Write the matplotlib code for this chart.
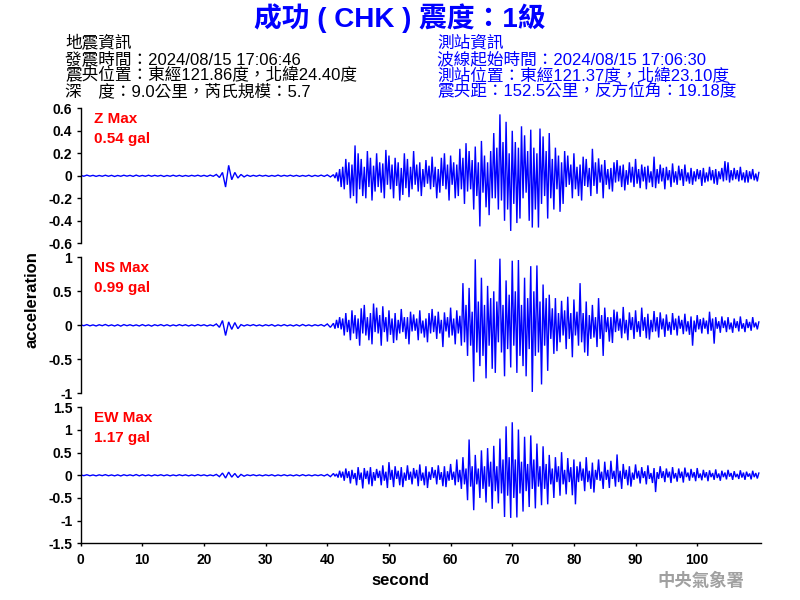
import matplotlib
matplotlib.use("Agg")
import matplotlib.pyplot as plt
import numpy as np
from matplotlib.ticker import FuncFormatter

FONTS = ['Liberation Sans', 'Noto Sans CJK TC', 'DejaVu Sans']
plt.rcParams['font.family'] = FONTS

# ---------------- data (gal) ----------------
# quiet part: one value every 0.5 s from 0 s to 40.5 s
quiet_interval = 0.5
# active part: one value every 0.25 s from 41 s to 110 s
active_start = 41.0
active_interval = 0.25

z_quiet = [
    .004, -.004, .006, -.003, .004, -.005, .003, -.004, .005, -.004,
    .004, -.006, .003, -.004, .005, -.003, .004, -.005, .006, -.004,
    .003, -.004, .005, -.004, .004, -.003, .004, -.006, .003, -.004,
    .005, -.004, .004, -.005, .003, -.004, .004, -.003, .005, -.004,
    .004, -.005, .006, -.004, .012, -.015, .030, -.100, .093, -.035,
    .030, -.020, .012, -.010, .006, -.005, .004, -.004, .005, -.003,
    .004, -.005, .003, -.004, .006, -.004, .004, -.003, .005, -.004,
    .004, -.005, .003, -.004, .005, -.006, .004, -.004, .006, -.005,
    .008, -.010,
]
z_active = [
    .01, -.02, .03, -.05,   .06, -.10, .08, -.12,   .15, -.08, .12, -.20,   # 41-43
    .10, -.18, .27, -.245,  .20, -.12, .15, -.18,   .08, -.20, .22, -.10,   # 44-46
    .16, -.22, .09, -.14,   .20, -.10, .12, -.15,   .11, -.20, .23, -.08,   # 47-49
    .18, -.12, .10, -.20,   .16, -.09, .12, -.22,   .07, -.17, .20, -.11,   # 50-52
    .15, -.19, .08, -.12,   .22, -.08, .10, -.14,   .12, -.18, .06, -.10,   # 53-55
    .14, -.07, .09, -.12,   .17, -.10, .08, -.20,   .06, -.15, .16, -.09,   # 56-58
    .20, -.12, .10, -.22,   .18, -.08, .12, -.20,   .10, -.18, .24, -.12,   # 59-61
    .16, -.25, .29, -.14,   .22, -.12, .14, -.30,   .26, -.18, .12, -.45,   # 62-64
    .31, -.15, .18, -.28,   .12, -.35, .22, -.20,   .38, -.20, .25, -.30,   # 65-67
    .546, -.22, .30, -.40,  .48, -.30, .20, -.49,   .40, -.25, .30, -.42,   # 68-70
    .25, -.38, .44, -.20,   .36, -.15, .22, -.40,   .41, -.46, .25, -.30,   # 71-73
    .20, -.46, .42, -.25,   .35, -.18, .22, -.38,   .38, -.20, .15, -.30,   # 74-76
    .25, -.12, .18, -.32,   .12, -.25, .22, -.10,   .18, -.08, .10, -.20,   # 77-79
    .20, -.12, .08, -.18,   .10, -.22, .17, -.09,   .15, -.10, .07, -.18,   # 80-82
    .24, -.09, .12, -.16,   .155, -.06, .10, -.20,  .14, -.08, .06, -.12,   # 83-85
    .07, -.14, .12, -.06,   .14, -.05, .09, -.10,   .10, -.13, .05, -.08,   # 86-88
    .12, -.06, .08, -.10,   .15, -.07, .06, -.11,   .10, -.05, .08, -.12,   # 89-91
    .09, -.06, .04, -.10,   .17, -.11, .06, -.07,   .10, -.05, .07, -.12,   # 92-94
    .08, -.04, .05, -.10,   .11, -.06, .04, -.08,   .09, -.04, .06, -.09,   # 95-97
    .10, -.05, .03, -.07,   .07, -.08, .04, -.05,   .06, -.03, .05, -.09,   # 98-100
    .07, -.06, .03, -.05,   .08, -.04, .05, -.07,   .06, -.08, .04, -.03,   # 101-103
    .07, -.05, .13, -.04,   .12, -.06, .05, -.04,   .07, -.03, .05, -.05,   # 104-106
    .08, -.04, .03, -.06,   .05, -.06, .04, -.03,   .06, -.04, .02, -.05,   # 107-109
    .03,
]

ns_quiet = [
    .008, -.006, .010, -.008, .006, -.010, .008, -.006, .012, -.008,
    .006, -.010, .008, -.012, .010, -.006, .008, -.008, .006, -.010,
    .010, -.008, .006, -.012, .008, -.006, .010, -.008, .008, -.010,
    .006, -.008, .010, -.006, .008, -.010, .006, -.008, .010, -.006,
    .008, -.010, .006, -.008, .020, -.030, .070, -.150, .050, -.060,
    .040, -.050, .010, -.010, .008, -.006, .010, -.008, .006, -.010,
    .008, -.006, .010, -.012, .006, -.008, .010, -.008, .006, -.010,
    .008, -.010, .012, -.008, .006, -.010, .008, -.006, .010, -.012,
    .020, -.030,
]
ns_active = [
    .03, -.05, .08, -.04,   .12, -.06, .10, -.15,   .18, -.10, .08, -.22,   # 41-43
    .22, -.12, .15, -.20,   .10, -.30, .25, -.12,   .30, -.15, .12, -.22,   # 44-46
    .18, -.28, .32, -.10,   .26, -.12, .15, -.30,   .28, -.10, .12, -.24,   # 47-49
    .22, -.14, .10, -.26,   .18, -.22, .08, -.12,   .24, -.10, .12, -.20,   # 50-52
    .12, -.28, .20, -.09,   .16, -.08, .10, -.22,   .22, -.12, .07, -.18,   # 53-55
    .10, -.25, .18, -.12,   .24, -.10, .14, -.20,   .20, -.12, .08, -.32,   # 56-58
    .19, -.09, .12, -.18,   .26, -.15, .10, -.28,   .22, -.12, .14, -.30,   # 59-61
    .62, -.25, .30, -.45,   .55, -.30, .20, -.83,   .97, -.40, .35, -.60,   # 62-64
    .70, -.45, .30, -.78,   .58, -.30, .40, -.64,   .50, -.70, .35, -.25,   # 65-67
    .98, -.40, .30, -.75,   .66, -.35, .45, -.62,   .95, -.30, .50, -.70,   # 68-70
    .96, -.45, .30, -.60,   .70, -.75, .40, -.35,   .87, -.98, .50, -.45,   # 71-73
    .88, -.40, .35, -.87,   .60, -.30, .40, -.67,   .45, -.20, .25, -.42,   # 74-76
    .40, -.38, .18, -.25,   .36, -.15, .22, -.35,   .42, -.20, .18, -.47,   # 77-79
    .38, -.15, .20, -.30,   .62, -.25, .18, -.40,   .35, -.45, .15, -.20,   # 80-82
    .30, -.18, .12, -.32,   .40, -.20, .15, -.45,   .26, -.10, .12, -.24,   # 83-85
    .12, -.26, .23, -.10,   .20, -.08, .10, -.19,   .27, -.12, .08, -.22,   # 86-88
    .19, -.07, .12, -.20,   .22, -.10, .06, -.17,   .26, -.08, .12, -.19,   # 89-91
    .17, -.21, .08, -.10,   .21, -.09, .12, -.18,   .19, -.06, .10, -.17,   # 92-94
    .16, -.08, .05, -.14,   .18, -.07, .10, -.15,   .14, -.05, .08, -.13,   # 95-97
    .17, -.09, .06, -.14,   .13, -.30, .07, -.10,   .15, -.06, .09, -.12,   # 98-100
    .11, -.05, .07, -.13,   .20, -.08, .10, -.27,   .12, -.05, .06, -.11,   # 101-103
    .13, -.04, .07, -.10,   .12, -.06, .04, -.11,   .10, -.04, .06, -.09,   # 104-106
    .13, -.05, .03, -.10,   .09, -.04, .05, -.08,   .12, -.03, .04, -.06,   # 107-109
    .05,
]

ew_quiet = [
    .010, -.008, .012, -.010, .008, -.012, .010, -.008, .014, -.010,
    .008, -.012, .010, -.014, .012, -.008, .010, -.010, .016, -.012,
    .012, -.010, .008, -.014, .010, -.008, .012, -.010, .010, -.012,
    .008, -.010, .012, -.008, .010, -.012, .008, -.010, .014, -.008,
    .010, -.012, .008, -.010, .020, -.030, .050, -.060, .070, -.040,
    .040, -.050, .020, -.020, .010, -.008, .012, -.010, .008, -.012,
    .010, -.008, .012, -.014, .008, -.010, .012, -.010, .008, -.012,
    .010, -.012, .014, -.010, .008, -.012, .010, -.008, .012, -.014,
    .020, -.030,
]
ew_active = [
    .04, -.02, .03, -.05,   .10, -.05, .08, -.12,   .15, -.06, .09, -.18,   # 41-43
    .12, -.08, .05, -.22,   .18, -.10, .06, -.29,   .16, -.08, .10, -.20,   # 44-46
    .18, -.24, .07, -.12,   .14, -.06, .10, -.22,   .22, -.12, .08, -.28,   # 47-49
    .29, -.10, .12, -.26,   .20, -.08, .10, -.22,   .18, -.26, .06, -.12,   # 50-52
    .22, -.10, .08, -.20,   .16, -.07, .12, -.24,   .24, -.12, .06, -.22,   # 53-55
    .20, -.28, .08, -.10,   .18, -.06, .12, -.20,   .22, -.10, .07, -.24,   # 56-58
    .20, -.26, .09, -.12,   .25, -.10, .08, -.22,   .35, -.15, .12, -.30,   # 59-61
    .40, -.20, .15, -.55,   .79, -.25, .20, -.77,   .45, -.20, .15, -.50,   # 62-64
    .55, -.30, .20, -.60,   .60, -.25, .30, -.74,   .65, -.35, .20, -.62,   # 65-67
    .81, -.40, .35, -.92,   1.08, -.45, .40, -.94,  1.17, -.50, .35, -.93,  # 68-70
    1.01, -.40, .30, -.80,  .85, -.35, .25, -.70,   .88, -.30, .35, -.73,   # 71-73
    .70, -.25, .20, -.66,   .64, -.30, .25, -.64,   .45, -.20, .15, -.50,   # 74-76
    .40, -.15, .20, -.45,   .51, -.20, .12, -.42,   .38, -.15, .18, -.44,   # 77-79
    .35, -.64, .20, -.15,   .30, -.12, .15, -.35,   .40, -.15, .10, -.30,   # 80-82
    .28, -.38, .12, -.10,   .35, -.12, .08, -.30,   .30, -.10, .12, -.28,   # 83-85
    .32, -.08, .10, -.25,   .46, -.15, .10, -.30,   .25, -.08, .12, -.22,   # 86-88
    .20, -.25, .06, -.10,   .24, -.07, .10, -.18,   .18, -.06, .09, -.20,   # 89-91
    .22, -.08, .05, -.17,   .16, -.37, .07, -.08,   .20, -.06, .09, -.15,   # 92-94
    .15, -.05, .08, -.17,   .18, -.07, .05, -.14,   .15, -.06, .08, -.16,   # 95-97
    .17, -.04, .06, -.12,   .14, -.05, .07, -.13,   .16, -.06, .04, -.11,   # 98-100
    .12, -.05, .07, -.13,   .11, -.04, .05, -.10,   .13, -.06, .04, -.12,   # 101-103
    .10, -.04, .06, -.09,   .12, -.03, .05, -.10,   .09, -.04, .03, -.08,   # 104-106
    .11, -.05, .06, -.10,   .08, -.03, .04, -.09,   .10, -.04, .05, -.07,   # 107-109
    .05,
]

channels = ["Z", "NS", "EW"]
quiet_parts = [z_quiet, ns_quiet, ew_quiet]
active_parts = [z_active, ns_active, ew_active]
max_gal = ["0.54", "0.99", "1.17"]
y_limits = [0.6, 1.0, 1.5]
y_ticks = [
    [-0.6, -0.4, -0.2, 0, 0.2, 0.4, 0.6],
    [-1, -0.5, 0, 0.5, 1],
    [-1.5, -1, -0.5, 0, 0.5, 1, 1.5],
]
x_ticks = [0, 10, 20, 30, 40, 50, 60, 70, 80, 90, 100]
x_max = 110.3

title = "成功 ( CHK ) 震度：1級"
quake_info = [
    "地震資訊",
    "發震時間：2024/08/15 17:06:46",
    "震央位置：東經121.86度，北緯24.40度",
    "深\u3000度：9.0公里，芮氏規模：5.7",
]
station_info = [
    "測站資訊",
    "波線起始時間：2024/08/15 17:06:30",
    "測站位置：東經121.37度，北緯23.10度",
    "震央距：152.5公里，反方位角：19.18度",
]

# ---------------- figure ----------------
fig = plt.figure(figsize=(8, 6), dpi=100)
fig.patch.set_facecolor("white")

left = 80.7 / 800
width = 680.0 / 800
bottoms_px = [243.3, 393.3, 543.3]
heights_px = [135.0, 136.0, 136.0]

fmt = FuncFormatter(lambda v, p: f"{v:g}")

for i, name in enumerate(channels):
    q = quiet_parts[i]
    a = active_parts[i]
    t = np.concatenate([np.arange(len(q)) * quiet_interval,
                        active_start + np.arange(len(a)) * active_interval])
    acc = np.concatenate([q, a])
    b = 1 - bottoms_px[i] / 600
    h = heights_px[i] / 600
    ax = fig.add_axes([left, b, width, h])
    ax.plot(t, acc, color="#0000FF", lw=1.0, solid_joinstyle="miter")
    ax.set_xlim(0, x_max)
    ax.set_ylim(-y_limits[i], y_limits[i])
    ax.set_yticks(y_ticks[i])
    ax.yaxis.set_major_formatter(fmt)
    for s in ["top", "right"]:
        ax.spines[s].set_visible(False)
    ax.spines["left"].set_linewidth(1.0)
    ax.tick_params(axis="y", direction="out", length=3, width=1, pad=3,
                   labelsize=10)
    for lab in ax.get_yticklabels():
        lab.set_fontweight("bold")
    if i < 2:
        ax.spines["bottom"].set_visible(False)
        ax.set_xticks([])
    else:
        ax.spines["bottom"].set_linewidth(1.0)
        ax.set_xticks(x_ticks)
        ax.tick_params(axis="x", direction="out", length=2, width=1, pad=5,
                       labelsize=10)
        for lab in ax.get_xticklabels():
            lab.set_fontweight("bold")
    ax.text(0.02, 0.89, f"{name} Max", transform=ax.transAxes, color="#FF0000",
            fontsize=11, fontweight="bold", va="baseline", ha="left")
    ax.text(0.02, 0.742, f"{max_gal[i]} gal", transform=ax.transAxes,
            color="#FF0000", fontsize=11, fontweight="bold", va="baseline",
            ha="left")

fig.text(0.04, 0.5, "acceleration", rotation=90, fontsize=12,
         fontweight="bold", ha="center", va="center")
fig.text(0.5, 0.033, "second", fontsize=12, fontweight="bold",
         ha="center", va="center")

fig.text(0.5, 0.97, title, color="#0000FF", fontsize=20, fontweight="bold",
         ha="center", va="center")

line_y = [43, 59, 75, 91]
for s, y in zip(quake_info, line_y):
    fig.text(65 / 800, 1 - y / 600, s, color="black", fontsize=12,
             fontweight="medium", ha="left", va="center")
for s, y in zip(station_info, line_y):
    fig.text(437 / 800, 1 - y / 600, s, color="#0000FF", fontsize=12,
             fontweight="medium", ha="left", va="center")

fig.text(701 / 800, 1 - 580 / 600, "中央氣象署", color="#A0A0A0", fontsize=12.5,
         fontweight="bold", ha="center", va="center")

fig.savefig("out.png", dpi=100, facecolor="white")
